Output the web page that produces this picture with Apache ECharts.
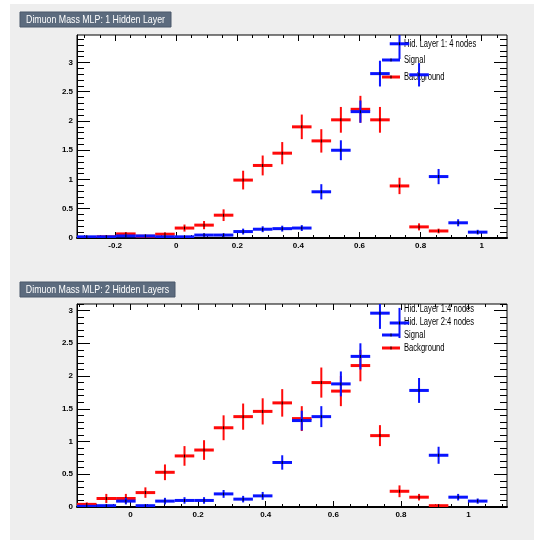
<!DOCTYPE html>
<html>
<head>
<meta charset="utf-8">
<title>Dimuon Mass MLP</title>
<script src="https://cdn.jsdelivr.net/npm/echarts@6/dist/echarts.min.js"></script>
<style>
  html, body { margin: 0; padding: 0; background: #fff; }
  #bg { position: absolute; left: 10px; top: 4px; width: 524px; height: 536px; background: #eeeeee; }
  #chart { position: absolute; left: 0; top: 0; width: 534px; height: 540px; }
</style>
</head>
<body>
<div id="bg"></div>
<div id="chart"></div>
<script>
// histogram binning (22 bins in both pads)
const nBins = 22;
const topLow = -0.325, topWidth = 0.064;
const botLow = -0.158, botWidth = 0.0578;

// pad 1: one hidden layer
const topSignal    = [0.02, 0.02, 0.035, 0.035, 0.02, 0.02, 0.05, 0.05, 0.11, 0.15, 0.16, 0.17, 0.79, 1.50, 2.16, 2.81, 3.32, 2.79, 1.05, 0.26, 0.10, 0];
const topSignalErr = [0.01, 0.01, 0.02, 0.02, 0.01, 0.01, 0.03, 0.03, 0.05, 0.05, 0.05, 0.05, 0.13, 0.17, 0.19, 0.22, 0.26, 0.20, 0.13, 0.06, 0.04, 0];
const topBack      = [0, 0.02, 0.07, 0.03, 0.065, 0.17, 0.22, 0.39, 0.99, 1.24, 1.45, 1.90, 1.66, 2.02, 2.20, 2.02, 0.89, 0.19, 0.12, 0, 0, 0];
const topBackErr   = [0, 0.02, 0.03, 0.02, 0.03, 0.06, 0.07, 0.10, 0.16, 0.17, 0.19, 0.21, 0.20, 0.22, 0.23, 0.22, 0.14, 0.06, 0.04, 0, 0, 0];

// pad 2: two hidden layers
const botSignal    = [0.01, 0.02, 0.09, 0.02, 0.09, 0.10, 0.10, 0.20, 0.12, 0.17, 0.68, 1.32, 1.38, 1.88, 2.30, 2.96, 2.81, 1.78, 0.79, 0.15, 0.09, 0];
const botSignalErr = [0.01, 0.02, 0.05, 0.02, 0.05, 0.05, 0.05, 0.06, 0.05, 0.06, 0.11, 0.15, 0.16, 0.19, 0.20, 0.24, 0.23, 0.19, 0.13, 0.05, 0.04, 0];
const botBack      = [0.04, 0.13, 0.13, 0.22, 0.53, 0.78, 0.87, 1.21, 1.38, 1.46, 1.59, 1.35, 1.90, 1.77, 2.16, 1.09, 0.24, 0.15, 0.02, 0, 0, 0];
const botBackErr   = [0.03, 0.07, 0.07, 0.08, 0.12, 0.15, 0.15, 0.19, 0.20, 0.20, 0.21, 0.19, 0.23, 0.23, 0.24, 0.16, 0.09, 0.05, 0.02, 0, 0, 0];

// axis ticks
const topXTicks = [-0.2, 0, 0.2, 0.4, 0.6, 0.8, 1];
const botXTicks = [0, 0.2, 0.4, 0.6, 0.8, 1];
const yTicks = [0, 0.5, 1, 1.5, 2, 2.5, 3];

const topYMax = 3.47, botYMax = 3.1;
const FONT = '"Liberation Sans", Arial, sans-serif';
const BLUE = '#0a14ff', RED = '#ff0a0a';

function centers(low, width) {
    return Array.from({ length: nBins }, (_, i) => low + (i + 0.5) * width);
}

function points(xs, vals, errs) {
    return xs.map((x, i) => [x, vals[i], errs[i]]).filter(p => p[1] > 0);
}

// small steps between min and max, skipping the majors
function minorTicks(min, max, step, majors) {
    const out = [];
    for (let v = Math.ceil(min / step) * step; v <= max + 1e-9; v += step) {
        const r = Math.round(v * 1000) / 1000;
        if (!majors.some(m => Math.abs(m - r) < 1e-6)) out.push(r);
    }
    return out;
}

function crossRenderer(color, halfW) {
    return function (params, api) {
        const x = api.value(0), y = api.value(1), e = api.value(2);
        const l = api.coord([x - halfW, y]);
        const r = api.coord([x + halfW, y]);
        const t = api.coord([x, y + e]);
        const b = api.coord([x, y - e]);
        const c = api.coord([x, y]);
        return {
            type: 'group',
            children: [
                { type: 'line', shape: { x1: l[0], y1: l[1], x2: r[0], y2: r[1] }, style: { stroke: color, lineWidth: 3 } },
                { type: 'line', shape: { x1: t[0], y1: t[1], x2: b[0], y2: b[1] }, style: { stroke: color, lineWidth: 2 } },
                { type: 'rect', shape: { x: c[0] - 0.5, y: c[1] - 1.5, width: 1, height: 3 }, style: { fill: '#000' } }
            ]
        };
    };
}

const noLine = { show: false, onZero: false };

function xAxesFor(grid, min, max, majors) {
    const minors = minorTicks(min, max, 0.05, majors);
    const base = { type: 'value', gridIndex: grid, min, max, splitLine: { show: false } };
    const tickStyle = { color: '#000', width: 1 };
    return [
        { ...base, position: 'bottom',
          axisLine: { show: true, onZero: false, lineStyle: { color: '#000', width: 2 } },
          axisTick: { show: true, inside: true, length: 6, customValues: majors, lineStyle: tickStyle },
          axisLabel: { show: true, customValues: majors, margin: 4, fontSize: 8, color: '#000', fontFamily: FONT, fontWeight: 'bold' } },
        { ...base, position: 'bottom', axisLine: noLine,
          axisTick: { show: true, inside: true, length: 3, customValues: minors, lineStyle: tickStyle },
          axisLabel: { show: false } },
        { ...base, position: 'top', axisLine: noLine,
          axisTick: { show: true, inside: true, length: 6, customValues: majors, lineStyle: tickStyle },
          axisLabel: { show: false } },
        { ...base, position: 'top', axisLine: noLine,
          axisTick: { show: true, inside: true, length: 3, customValues: minors, lineStyle: tickStyle },
          axisLabel: { show: false } }
    ];
}

function yAxesFor(grid, max) {
    const minors = minorTicks(0, max, 0.1, yTicks);
    const base = { type: 'value', gridIndex: grid, min: 0, max, splitLine: { show: false } };
    const tickStyle = { color: '#000', width: 1 };
    return [
        { ...base, position: 'left',
          axisLine: { show: true, onZero: false, lineStyle: { color: '#000', width: 1 } },
          axisTick: { show: true, inside: true, length: 13, customValues: yTicks, lineStyle: tickStyle },
          axisLabel: { show: true, customValues: yTicks, margin: 4, fontSize: 8, color: '#000', fontFamily: FONT, fontWeight: 'bold' } },
        { ...base, position: 'left', axisLine: noLine,
          axisTick: { show: true, inside: true, length: 7, customValues: minors, lineStyle: tickStyle },
          axisLabel: { show: false } },
        { ...base, position: 'right', axisLine: noLine,
          axisTick: { show: true, inside: true, length: 13, customValues: yTicks, lineStyle: tickStyle },
          axisLabel: { show: false } },
        { ...base, position: 'right', axisLine: noLine,
          axisTick: { show: true, inside: true, length: 7, customValues: minors, lineStyle: tickStyle },
          axisLabel: { show: false } }
    ];
}

function crossSeries(name, grid, color, halfW, data) {
    return {
        name, type: 'custom', xAxisIndex: grid * 4, yAxisIndex: grid * 4,
        clip: true, renderItem: crossRenderer(color, halfW),
        encode: { x: 0, y: 1 }, data
    };
}

function titleBox(x, y, w, text) {
    return {
        type: 'group', x, y,
        children: [
            { type: 'rect', shape: { x: 0, y: 0, width: w, height: 15 }, style: { fill: '#5c6b7e', stroke: '#4a586a', lineWidth: 1 } },
            { type: 'text', x: w / 2, y: 8, scaleX: 0.8,
              style: { text, fill: '#fff', font: '11px ' + FONT, align: 'center', verticalAlign: 'middle' } }
        ]
    };
}

function legendRow(x, y, color, text) {
    const items = [];
    if (color) {
        items.push({ type: 'line', shape: { x1: x, y1: y, x2: x + 18, y2: y }, style: { stroke: color, lineWidth: 3 } });
        items.push({ type: 'rect', shape: { x: x + 8.5, y: y - 1.5, width: 1, height: 3 }, style: { fill: '#000' } });
    }
    items.push({ type: 'text', x: x + 22, y, scaleX: 0.76,
                 style: { text, fill: '#000', font: '10px ' + FONT, verticalAlign: 'middle' } });
    return items;
}

const topX = centers(topLow, topWidth);
const botX = centers(botLow, botWidth);

const chart = echarts.init(document.getElementById('chart'));
chart.setOption({
    animation: false,
    backgroundColor: 'transparent',
    grid: [
        { left: 77, top: 35, width: 430, height: 203, show: true, backgroundColor: '#fff', borderColor: '#000', borderWidth: 1 },
        { left: 77, top: 304, width: 430, height: 203, show: true, backgroundColor: '#fff', borderColor: '#000', borderWidth: 1 }
    ],
    xAxis: [...xAxesFor(0, topLow, topLow + nBins * topWidth, topXTicks), ...xAxesFor(1, botLow, botLow + nBins * botWidth, botXTicks)],
    yAxis: [...yAxesFor(0, topYMax), ...yAxesFor(1, botYMax)],
    series: [
        crossSeries('Background', 0, RED, topWidth / 2, points(topX, topBack, topBackErr)),
        crossSeries('Signal', 0, BLUE, topWidth / 2, points(topX, topSignal, topSignalErr)),
        crossSeries('Background', 1, RED, botWidth / 2, points(botX, botBack, botBackErr)),
        crossSeries('Signal', 1, BLUE, botWidth / 2, points(botX, botSignal, botSignalErr))
    ],
    graphic: [
        titleBox(20, 12, 151, 'Dimuon Mass MLP: 1 Hidden Layer'),
        titleBox(20, 282, 155, 'Dimuon Mass MLP: 2 Hidden Layers'),
        ...legendRow(382, 44, null, 'Hid. Layer 1: 4 nodes'),
        ...legendRow(382, 60, BLUE, 'Signal'),
        ...legendRow(382, 77, RED, 'Background'),
        ...legendRow(382, 309, null, 'Hid. Layer 1:4 nodes'),
        ...legendRow(382, 322, null, 'Hid. Layer 2:4 nodes'),
        ...legendRow(382, 335, BLUE, 'Signal'),
        ...legendRow(382, 348, RED, 'Background')
    ]
});
</script>
</body>
</html>
